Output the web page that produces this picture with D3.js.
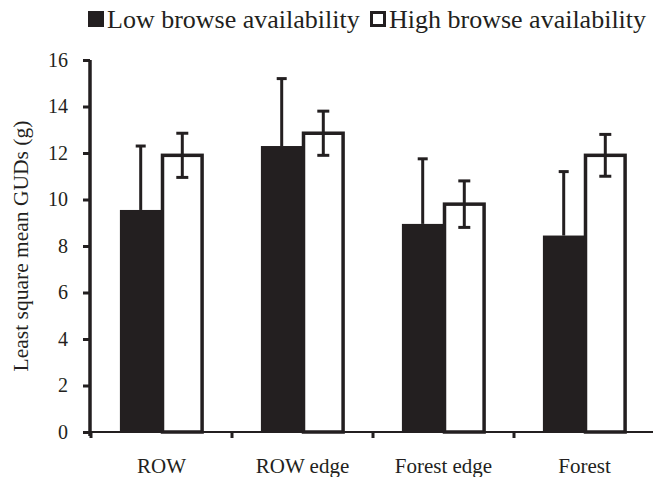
<!DOCTYPE html>
<html>
<head>
<meta charset="utf-8">
<script src="https://cdn.jsdelivr.net/npm/d3@7"></script>
<style>
  body { margin: 0; background: #fff; }
</style>
</head>
<body>
<div id="chart"></div>
<script>
// data
const categories = ["ROW", "ROW edge", "Forest edge", "Forest"];
const series = ["Low browse availability", "High browse availability"];
const lowMean = [9.55, 12.3, 8.95, 8.45];
const lowErr = [2.75, 2.9, 2.8, 2.75];
const highMean = [11.9, 12.85, 9.8, 11.9];
const highErr = [0.95, 0.95, 1.0, 0.9];
const yTicks = [0, 2, 4, 6, 8, 10, 12, 14, 16];

const W = 653, H = 477;
const ink = "#231f20";
const serif = "Liberation Serif, Times New Roman, serif";

const svg = d3.select("#chart").append("svg")
  .attr("width", W).attr("height", H)
  .attr("font-family", serif);

const x = d3.scaleBand().domain(categories).range([91, 655])
  .paddingInner(0.41).paddingOuter(0.205);
const x1 = d3.scaleBand().domain(series).range([0, x.bandwidth()]);
const y = d3.scaleLinear().domain([0, 16]).range([432, 60]);

const rows = categories.map((c, i) => ({
  cat: c,
  vals: [
    { s: series[0], v: lowMean[i], e: lowErr[i] },
    { s: series[1], v: highMean[i], e: highErr[i] }
  ]
}));

// bars
const g = svg.selectAll(".grp").data(rows).join("g")
  .attr("transform", d => `translate(${x(d.cat)},0)`);

g.append("rect")
  .attr("x", x1(series[0]))
  .attr("y", d => y(d.vals[0].v))
  .attr("width", x1.bandwidth())
  .attr("height", d => y(0) - y(d.vals[0].v))
  .attr("fill", ink);

g.append("rect")
  .attr("x", x1(series[1]) + 1)
  .attr("y", d => y(d.vals[1].v))
  .attr("width", x1.bandwidth() - 2)
  .attr("height", d => y(0) - y(d.vals[1].v))
  .attr("fill", "#fff")
  .attr("stroke", ink)
  .attr("stroke-width", 3.5);

// error bars: low only upward, high both ways
const cx0 = x1(series[0]) + x1.bandwidth() / 2;
const cx1 = x1(series[1]) + x1.bandwidth() / 2;

g.append("line")
  .attr("x1", cx0).attr("x2", cx0)
  .attr("y1", d => y(d.vals[0].v)).attr("y2", d => y(d.vals[0].v + d.vals[0].e))
  .attr("stroke", ink).attr("stroke-width", 3);
g.append("line")
  .attr("x1", cx0 - 5).attr("x2", cx0 + 5)
  .attr("y1", d => y(d.vals[0].v + d.vals[0].e)).attr("y2", d => y(d.vals[0].v + d.vals[0].e))
  .attr("stroke", ink).attr("stroke-width", 3);

g.append("line")
  .attr("x1", cx1).attr("x2", cx1)
  .attr("y1", d => y(d.vals[1].v - d.vals[1].e)).attr("y2", d => y(d.vals[1].v + d.vals[1].e))
  .attr("stroke", ink).attr("stroke-width", 3);
[1, -1].forEach(sgn => {
  g.append("line")
    .attr("x1", cx1 - 6).attr("x2", cx1 + 6)
    .attr("y1", d => y(d.vals[1].v + sgn * d.vals[1].e))
    .attr("y2", d => y(d.vals[1].v + sgn * d.vals[1].e))
    .attr("stroke", ink).attr("stroke-width", 3);
});

// y axis
const yAxis = svg.append("g").attr("transform", "translate(90,0)")
  .call(d3.axisLeft(y).tickValues(yTicks).tickSize(7).tickPadding(15));
yAxis.select(".domain").attr("stroke", ink).attr("stroke-width", 3.5)
  .attr("d", `M0,${y(16)}V${y(0) + 4}`);
yAxis.selectAll(".tick line").attr("stroke", ink).attr("stroke-width", 3);
yAxis.selectAll("text").attr("font-size", 20).attr("fill", ink)
  .attr("font-family", serif);

// x axis
const xAxis = svg.append("g").attr("transform", `translate(0,${y(0)})`)
  .call(d3.axisBottom(x).tickSize(0).tickPadding(26));
xAxis.select(".domain").attr("stroke", ink).attr("stroke-width", 2)
  .attr("d", `M90,0H${W}`);
xAxis.selectAll("text").attr("font-size", 21).attr("fill", ink)
  .attr("font-family", serif);

// category boundary ticks
const bounds = categories.map(c => x(c) - x.step() * x.paddingInner() / 2);
svg.selectAll(".btick").data(bounds).join("line")
  .attr("x1", d => d).attr("x2", d => d)
  .attr("y1", y(0)).attr("y2", y(0) + 6)
  .attr("stroke", ink).attr("stroke-width", 3);

// y title
svg.append("text")
  .attr("transform", "rotate(-90)")
  .attr("x", -246).attr("y", 28)
  .attr("text-anchor", "middle")
  .attr("font-size", 21.5).attr("fill", ink)
  .attr("font-family", serif)
  .text("Least square mean GUDs (g)");

// legend
const legX = [88, 370];
const leg = svg.selectAll(".leg").data(series).join("g")
  .attr("transform", (d, i) => `translate(${legX[i]},11)`);
leg.append("rect")
  .attr("x", (d, i) => i ? 1.5 : 0).attr("y", (d, i) => i ? 1.5 : 0)
  .attr("width", (d, i) => i ? 13 : 16).attr("height", (d, i) => i ? 13 : 16)
  .attr("fill", (d, i) => i ? "#fff" : ink)
  .attr("stroke", (d, i) => i ? ink : "none")
  .attr("stroke-width", 3);
leg.append("text")
  .attr("x", 19).attr("y", 17)
  .attr("font-size", 26).attr("fill", ink)
  .attr("font-family", serif)
  .text(d => d);
</script>
</body>
</html>
